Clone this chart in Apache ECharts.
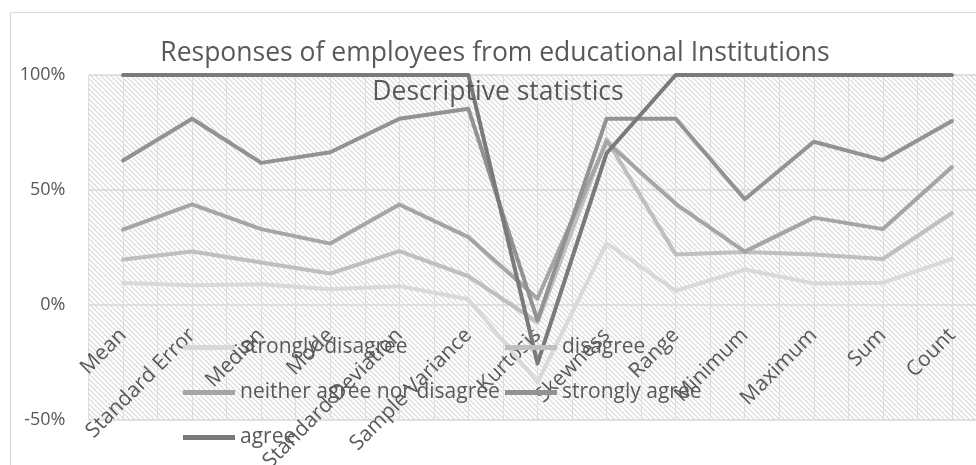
<!DOCTYPE html>
<html>
<head>
<meta charset="utf-8">
<script src="https://cdn.jsdelivr.net/npm/echarts@6/dist/echarts.min.js"></script>
<style>
html,body{margin:0;padding:0;background:#fff;}
#chart{width:976px;height:465px;}
</style>
</head>
<body>
<div id="chart"></div>
<script>
// ---- data (share of each response, in %, per statistic; stacked to 100%) ----
const categories = ['Mean','Standard Error','Median','Mode','Standard Deviation','Sample Variance','Kurtosis','Skewness','Range','Minimum','Maximum','Sum','Count'];
const stronglyDisagree = [9.6, 8.6, 9.0, 6.8, 8.2, 2.5, -33.6, 26.9, 6.2, 15.4, 9.4, 9.7, 20.0];
const disagree         = [10.2, 14.7, 9.5, 6.9, 15.2, 10.0, 26.1, 45.1, 15.8, 7.6, 12.6, 10.3, 20.0];
const neither          = [13.0, 20.4, 14.5, 13.0, 20.3, 17.0, 10.3, -1.0, 22.0, 0.2, 16.0, 13.0, 20.0];
const stronglyAgree    = [30.0, 37.3, 28.8, 39.7, 37.3, 55.8, -9.5, 10.0, 37.0, 22.8, 33.0, 30.0, 20.0];
const agree            = [37.2, 19.0, 38.2, 33.6, 19.0, 14.7, -18.7, -15.0, 19.0, 54.0, 29.0, 37.0, 20.0];
const seriesNames = ['strongly disagree','disagree','neither agree nor disagree','strongly agree','agree'];
const yTicks = [-50, 0, 50, 100];
const titleText = 'Responses of employees from educational Institutions';
const subtitleText = 'Descriptive statistics';

// ---- hatch pattern for plot background ----
const tile = document.createElement('canvas');
tile.width = 5; tile.height = 5;
const tctx = tile.getContext('2d');
tctx.fillStyle = '#ffffff';
tctx.fillRect(0, 0, 5, 5);
tctx.strokeStyle = '#d6d6d6';
tctx.lineWidth = 1.1;
[-5, 0, 5].forEach(function (o) {
  tctx.beginPath();
  tctx.moveTo(o - 1, -1);
  tctx.lineTo(o + 6, 6);
  tctx.stroke();
});

const FONT = '"Open Sans", "Noto Sans", sans-serif';
const colors = ['#d9d9d9', '#bfbfbf', '#a5a5a5', '#929292', '#7a7a7a'];
const dataSets = [stronglyDisagree, disagree, neither, stronglyAgree, agree];

// grid geometry: y from -50% (bottom) to 100% (top); category axis sits on the 0% line
const GRID_TOP = 75, GRID_BOTTOM = 45, CHART_H = 465;
const plotH = CHART_H - GRID_TOP - GRID_BOTTOM;
const zeroOffset = -plotH * (0 - yTicks[0]) / (yTicks[yTicks.length - 1] - yTicks[0]);

const chart = echarts.init(document.getElementById('chart'), null, {renderer: 'canvas'});
chart.setOption({
  animation: false,
  backgroundColor: '#ffffff',
  color: colors,
  graphic: [
    {type: 'rect', z: -10, silent: true,
     shape: {x: 10.5, y: 12.5, width: 1000, height: 500},
     style: {fill: null, stroke: '#d9d9d9', lineWidth: 1}},
    {type: 'text', x: 495, y: 53, z: 10, silent: true,
     style: {text: titleText, fill: '#595959', font: '26.5px ' + FONT, align: 'center', verticalAlign: 'middle'}},
    {type: 'text', x: 498, y: 92, z: 10, silent: true,
     style: {text: subtitleText, fill: '#595959', font: '26.5px ' + FONT, align: 'center', verticalAlign: 'middle'}}
  ],
  legend: {
    data: seriesNames,
    left: 183,
    top: 325,
    width: 650,
    padding: 0,
    itemGap: 0,
    icon: 'rect',
    itemWidth: 52,
    itemHeight: 5,
    z: 20,
    textStyle: {color: '#595959', fontFamily: FONT, fontSize: 21, width: 265, lineHeight: 45, height: 45}
  },
  grid: {
    left: 88.5, right: -10.5, top: GRID_TOP, bottom: GRID_BOTTOM,
    containLabel: false,
    outerBoundsMode: 'none',
    show: true,
    borderWidth: 0,
    backgroundColor: {image: tile, repeat: 'repeat'}
  },
  xAxis: [
    {
      type: 'category',
      data: categories,
      boundaryGap: true,
      position: 'bottom',
      offset: zeroOffset,
      axisLine: {show: false, onZero: false},
      axisTick: {show: false},
      splitLine: {show: false},
      axisLabel: {rotate: 45, margin: 27, color: '#595959', fontFamily: FONT, fontSize: 21, interval: 0}
    },
    {
      type: 'value',
      min: 0, max: 26, interval: 1,
      position: 'top',
      axisLine: {show: false, onZero: false},
      axisTick: {show: false},
      axisLabel: {show: false},
      splitLine: {show: true, lineStyle: {color: '#dddddd', width: 1}}
    }
  ],
  yAxis: {
    type: 'value',
    min: yTicks[0], max: yTicks[yTicks.length - 1], interval: 50,
    axisLine: {show: false, onZero: false},
    axisTick: {show: false},
    axisLabel: {formatter: '{value}%', color: '#595959', fontFamily: FONT, fontSize: 18, margin: 23},
    splitLine: {lineStyle: {color: '#d9d9d9', width: 1.5}}
  },
  series: seriesNames.map(function (name, i) {
    return {
      name: name,
      type: 'line',
      stack: 'total',
      stackStrategy: 'all',
      data: dataSets[i],
      xAxisIndex: 0,
      showSymbol: false,
      symbol: 'none',
      lineStyle: {width: 4, color: colors[i], join: 'round', cap: 'round'},
      itemStyle: {color: colors[i]},
      z: 2 + i
    };
  })
});
</script>
</body>
</html>
